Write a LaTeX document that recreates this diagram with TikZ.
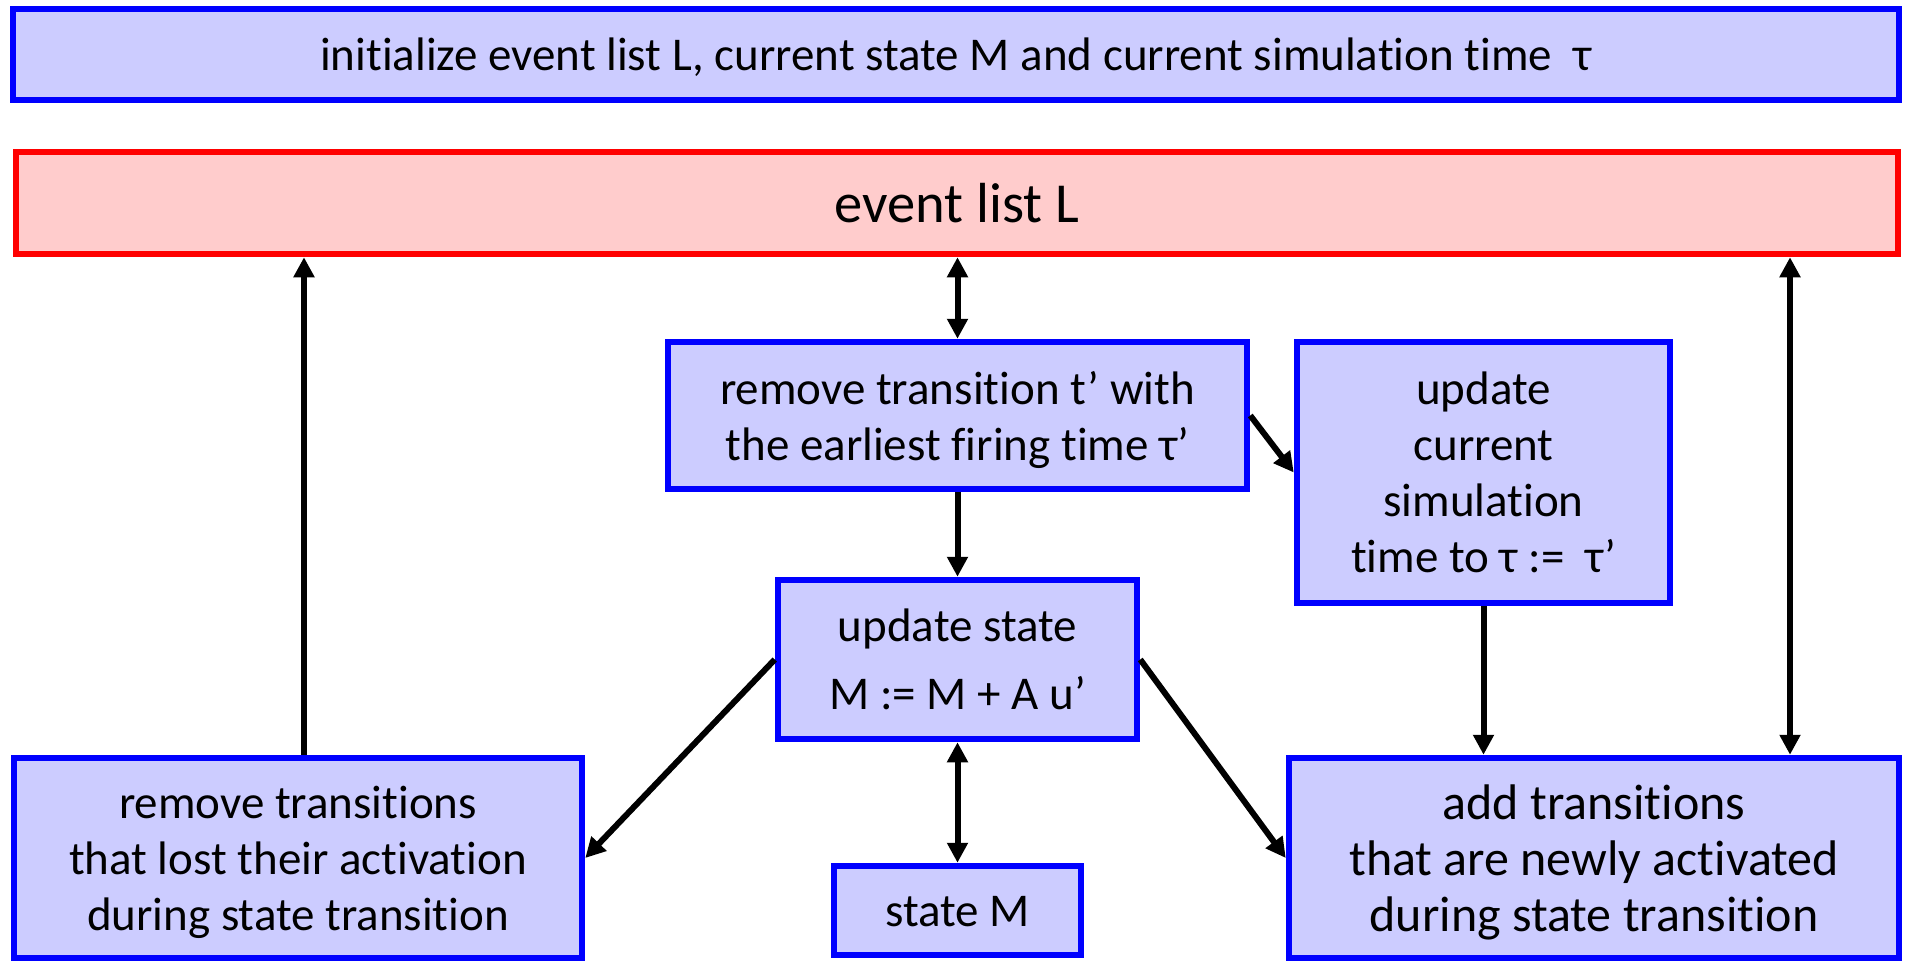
\documentclass[tikz,border=0pt]{standalone}
\usepackage{fontspec}
\setmainfont{Carlito}[Ligatures={NoCommon}]
\usetikzlibrary{arrows.meta}
\definecolor{bfill}{HTML}{CCCCFF}
\definecolor{bdraw}{HTML}{0000FF}
\definecolor{rfill}{HTML}{FFCCCC}
\definecolor{rdraw}{HTML}{FF0000}
\newcommand\asc{\vphantom{l}}
\newcommand\nd[1]{\raisebox{0pt}[\height][0pt]{#1}}
\tikzset{
  box/.style={draw=bdraw, fill=bfill, line width=6.5pt, align=center, inner sep=0pt,
    font=\fontsize{47}{56}\selectfont},
  redbox/.style={draw=rdraw, fill=rfill, line width=6.5pt, align=center, inner sep=0pt,
    font=\fontsize{56.5}{66}\selectfont},
  arr/.style={line width=6pt, -{Triangle[length=20pt,width=20pt]}},
  darr/.style={line width=6pt, {Triangle[length=20pt,width=20pt]}-{Triangle[length=20pt,width=20pt]}},
}
\begin{document}
\begin{tikzpicture}[x=1pt,y=-1pt]
\useasboundingbox (0,0) rectangle (1906,961);
\node[box, minimum width=1886pt, minimum height=91pt] (init) at (956,54.5)
  {\nd{initialize event list L, current state M and current simulation time\ \ τ}};
\node[redbox, minimum width=1882pt, minimum height=102pt] (list) at (957,203) {event list L};
\node[box, minimum width=579pt, minimum height=147pt] (rem) at (957.5,415.5)
  {\asc remove transition t’ with\\\nd{the earliest firing time τ’}};
\node[box, minimum width=373pt, minimum height=261pt] (ut) at (1483.5,472.5)
  {\asc update\\current\\simulation\\\nd{time to τ :=\ \ τ’}};
\node[box, minimum width=359pt, minimum height=159pt, font=\fontsize{47}{68}\selectfont] (us) at (957.5,659.5)
  {\asc update state\\\nd{M := M + A u’}};
\node[box, minimum width=568pt, minimum height=200pt] (lb) at (298,858)
  {\asc remove transitions\\that lost their activation\\\nd{during state transition}};
\node[box, minimum width=247pt, minimum height=89pt] (sm) at (957.5,910.5) {\asc state M};
\node[box, minimum width=610pt, minimum height=200pt, font=\fontsize{50}{56}\selectfont] (rb) at (1594,858)
  {\asc add transitions\\that are newly activated\\\nd{during state transition}};
\coordinate (xl) at (304,0);
\coordinate (xr) at (1790,0);
\draw[arr] (lb.north -| xl) -- (list.south -| xl);
\draw[darr] (list.south -| rem.north) -- (rem.north);
\draw[arr] (rem.east) -- (ut.west);
\draw[arr] (rem.south) -- (us.north);
\draw[arr] (us.west) -- (lb.east);
\draw[arr] (us.east) -- (rb.west);
\draw[darr] (us.south) -- (sm.north);
\draw[arr] (ut.south) -- (rb.north -| ut.south);
\draw[darr] (rb.north -| xr) -- (list.south -| xr);
\end{tikzpicture}
\end{document}
